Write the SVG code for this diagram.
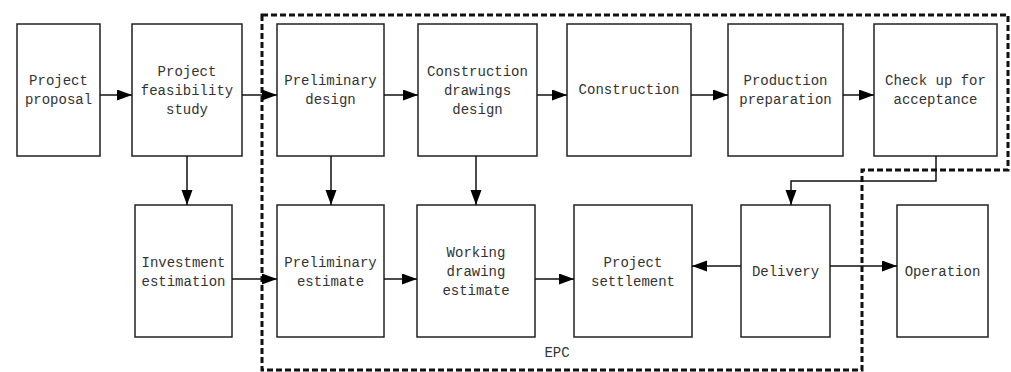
<svg xmlns="http://www.w3.org/2000/svg" width="1011" height="372" viewBox="0 0 1011 372">
<style>
.box{fill:#fff;stroke:#222;stroke-width:1.5}
.t{font-family:"Liberation Mono","DejaVu Sans Mono",monospace;font-size:14px;fill:#333;text-anchor:middle}
.c{fill:none;stroke:#111;stroke-width:1.5}
.epc{fill:none;stroke:#111;stroke-width:3;stroke-dasharray:6,3}
</style>
<defs>
<marker id="ah" markerUnits="userSpaceOnUse" markerWidth="16" markerHeight="12" refX="15" refY="5.5" orient="auto">
<path d="M0,0 L15,5.5 L0,11 z" fill="#000"/>
</marker>
</defs>
<rect width="1011" height="372" fill="#fff"/>
<g id="epc-boundary">
<path class="epc" d="M262,15 H1008 V170 H862 V370 H262 Z"/>
<text class="t" x="557" y="357">EPC</text>
</g>
<g id="n-proposal"><rect class="box" x="17" y="24" width="83" height="132"/>
<text class="t" x="58.5" y="85">Project</text><text class="t" x="58.5" y="104">proposal</text></g>
<g id="n-feasibility"><rect class="box" x="132" y="24" width="110" height="132"/>
<text class="t" x="187" y="76">Project</text><text class="t" x="187" y="95">feasibility</text><text class="t" x="187" y="114">study</text></g>
<g id="n-prelim-design"><rect class="box" x="277" y="24" width="107" height="132"/>
<text class="t" x="330.5" y="85">Preliminary</text><text class="t" x="330.5" y="104">design</text></g>
<g id="n-cd-design"><rect class="box" x="418" y="24" width="119" height="132"/>
<text class="t" x="477.5" y="76">Construction</text><text class="t" x="477.5" y="95">drawings</text><text class="t" x="477.5" y="114">design</text></g>
<g id="n-construction"><rect class="box" x="567" y="24" width="124" height="132"/>
<text class="t" x="629" y="94">Construction</text></g>
<g id="n-production"><rect class="box" x="728" y="24" width="115" height="132"/>
<text class="t" x="785.5" y="85">Production</text><text class="t" x="785.5" y="104">preparation</text></g>
<g id="n-check"><rect class="box" x="874" y="24" width="123" height="132"/>
<text class="t" x="935.5" y="85">Check up for</text><text class="t" x="935.5" y="104">acceptance</text></g>
<g id="n-investment"><rect class="box" x="135" y="205" width="97" height="132"/>
<text class="t" x="183.5" y="267">Investment</text><text class="t" x="183.5" y="286">estimation</text></g>
<g id="n-prelim-est"><rect class="box" x="277" y="205" width="107" height="132"/>
<text class="t" x="330.5" y="267">Preliminary</text><text class="t" x="330.5" y="286">estimate</text></g>
<g id="n-working"><rect class="box" x="417" y="205" width="118" height="132"/>
<text class="t" x="476" y="257">Working</text><text class="t" x="476" y="276">drawing</text><text class="t" x="476" y="295">estimate</text></g>
<g id="n-settlement"><rect class="box" x="574" y="205" width="118" height="132"/>
<text class="t" x="633" y="267">Project</text><text class="t" x="633" y="286">settlement</text></g>
<g id="n-delivery"><rect class="box" x="741" y="205" width="89" height="132"/>
<text class="t" x="785.5" y="276">Delivery</text></g>
<g id="n-operation"><rect class="box" x="897" y="205" width="91" height="132"/>
<text class="t" x="942.5" y="276">Operation</text></g>
<g id="connectors">
<path class="c" d="M100,95 H132" marker-end="url(#ah)"/>
<path class="c" d="M242,95 H277" marker-end="url(#ah)"/>
<path class="c" d="M384,95 H418" marker-end="url(#ah)"/>
<path class="c" d="M537,95 H567" marker-end="url(#ah)"/>
<path class="c" d="M691,95 H728" marker-end="url(#ah)"/>
<path class="c" d="M843,95 H874" marker-end="url(#ah)"/>
<path class="c" d="M187,156 V205" marker-end="url(#ah)"/>
<path class="c" d="M331,156 V205" marker-end="url(#ah)"/>
<path class="c" d="M476,156 V205" marker-end="url(#ah)"/>
<path class="c" d="M936,156 V181 H791 V205" marker-end="url(#ah)"/>
<path class="c" d="M232,279 H277" marker-end="url(#ah)"/>
<path class="c" d="M384,279 H417" marker-end="url(#ah)"/>
<path class="c" d="M535,279 H574" marker-end="url(#ah)"/>
<path class="c" d="M741,266 H692" marker-end="url(#ah)"/>
<path class="c" d="M830,266 H897" marker-end="url(#ah)"/>
</g>
</svg>
